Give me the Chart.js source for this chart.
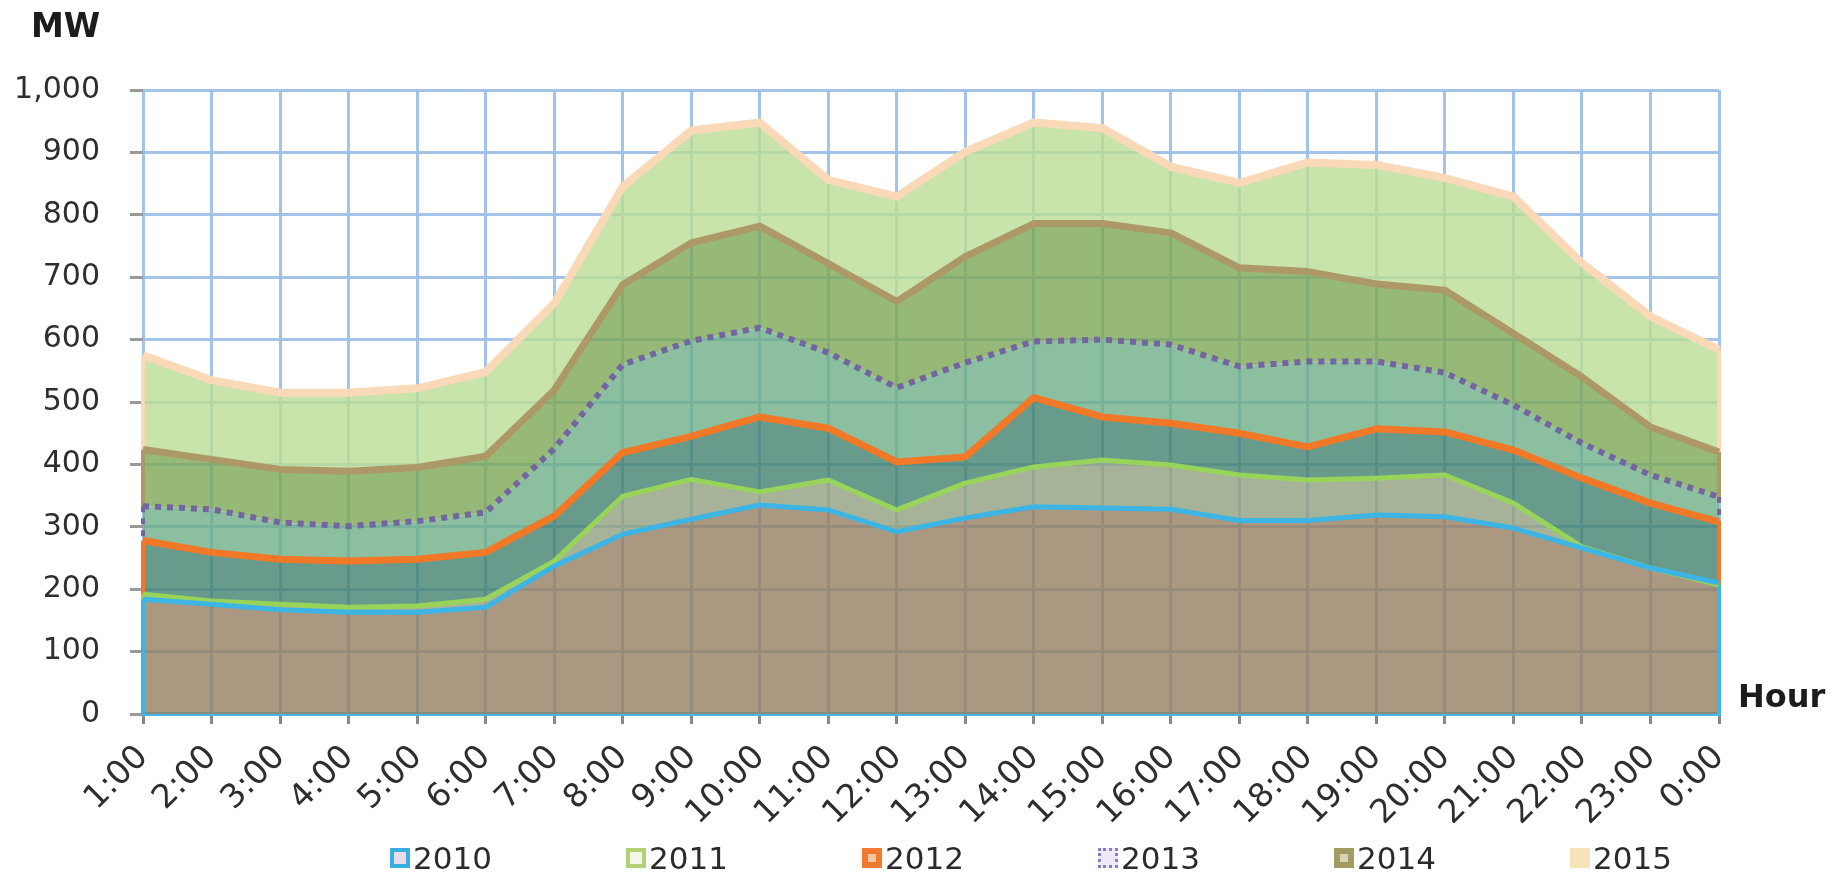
<!DOCTYPE html>
<html>
<head>
<meta charset="utf-8">
<script src="https://cdn.jsdelivr.net/npm/chart.js@4.4.1/dist/chart.umd.min.js"></script>
<style>
  html, body { margin: 0; padding: 0; background: #fff; }
  #wrap { position: relative; width: 1839px; height: 875px; font-family: "DejaVu Sans", "Liberation Sans", sans-serif; }
  #chart { position: absolute; left: 0; top: 0; }
  .axt { position: absolute; font-weight: bold; color: #1c1c1c; line-height: 1; }
  #legend { position: absolute; left: 390px; top: 841px; display: flex; }
  .li { width: 236px; display: flex; align-items: center; font-size: 31px; line-height: 34px; color: #2b2b2b; }
  .box { width: 20px; height: 20px; box-sizing: border-box; margin-right: 3px; }
</style>
</head>
<body>
<div id="wrap">
  <canvas id="chart" width="1839" height="875"></canvas>
  <div class="axt" style="left:31px;top:9px;font-size:33px">MW</div>
  <div class="axt" style="left:1738px;top:680px;font-size:32px">Hour</div>
  <div id="legend"></div>
</div>
<script>
// hourly load by year, MW
const hours = ['1:00','2:00','3:00','4:00','5:00','6:00','7:00','8:00','9:00','10:00','11:00','12:00',
               '13:00','14:00','15:00','16:00','17:00','18:00','19:00','20:00','21:00','22:00','23:00','0:00'];
const years = ['2010', '2011', '2012', '2013', '2014', '2015'];

const load2010 = [184,176,167,163,163,171,237,288,312,335,327,292,314,332,330,328,310,310,319,316,298,266,234,210];
const load2011 = [192,181,176,171,173,184,245,349,376,356,375,327,370,396,407,399,383,375,378,383,338,268,234,207];
const load2012 = [278,259,248,245,248,259,317,419,445,476,458,404,412,507,476,466,450,428,457,452,423,378,338,308];
const load2013 = [333,328,307,301,309,323,425,560,598,619,579,523,563,597,600,592,557,565,565,547,495,434,383,348];
const load2014 = [424,408,392,389,395,413,519,688,755,782,722,661,733,786,786,771,715,709,689,679,610,540,460,420];
const load2015 = [575,535,515,515,522,548,658,845,935,948,856,829,901,948,939,877,851,884,880,859,829,723,637,584];

const yTicks = [0, 100, 200, 300, 400, 500, 600, 700, 800, 900, 1000];

const series = [load2010, load2011, load2012, load2013, load2014, load2015];
// band under each line (fill down to the previous year), line colour, width, dash
const bandColors = ['rgba(149,126,96,0.8)', 'rgba(145,160,126,0.8)', 'rgba(67,130,111,0.8)',
                    'rgba(111,174,136,0.8)', 'rgba(124,168,86,0.8)', 'rgba(186,221,149,0.8)'];
const lineColors = ['#3db5e4', '#98d45a', '#f07826', '#73659f', '#ad9868', '#f9d9b8'];
const lineWidths = [5, 5, 7, 6, 7, 8];
const lineDashes = [[], [], [], [6, 6], [], []];

const datasets = years.map((y, i) => ({
  label: y,
  data: series[i],
  fill: i === 0 ? 'origin' : '-1',
  backgroundColor: bandColors[i],
  borderColor: lineColors[i],
  borderWidth: lineWidths[i],
  borderDash: lineDashes[i],
  borderJoinStyle: 'round',
  pointRadius: 0,
  tension: 0
}));

// vertical edges of each band at first and last hour, taken from the data through the scales
const bandEdges = {
  id: 'bandEdges',
  beforeDatasetsDraw(chart) {
    const { ctx, scales: { x, y } } = chart;
    const last = hours.length - 1;
    ctx.save();
    series.forEach((s, i) => {
      [0, last].forEach(j => {
        const px = x.getPixelForValue(j);
        const lo = i === 0 ? 0 : series[i - 1][j];
        ctx.beginPath();
        ctx.strokeStyle = lineColors[i];
        ctx.lineWidth = 4;
        ctx.setLineDash(lineDashes[i]);
        ctx.moveTo(px, y.getPixelForValue(s[j]));
        ctx.lineTo(px, y.getPixelForValue(lo));
        ctx.stroke();
      });
    });
    ctx.restore();
  }
};

const gridBlue = 'rgba(158,193,230,0.95)';

new Chart(document.getElementById('chart'), {
  type: 'line',
  data: { labels: hours, datasets },
  options: {
    responsive: false,
    animation: false,
    layout: { padding: { left: 0, right: 120, top: 90, bottom: 0 } },
    plugins: {
      legend: { display: false },
      tooltip: { enabled: false },
      filler: { drawTime: 'beforeDatasetsDraw' }
    },
    scales: {
      x: {
        grid: { color: gridBlue, lineWidth: 3, tickLength: 10, tickColor: '#888' },
        border: { color: '#45b8e6', width: 4 },
        ticks: {
          autoSkip: false, minRotation: 45, maxRotation: 45, padding: 14,
          color: '#2e2e2e', font: { family: 'DejaVu Sans', size: 33 }
        },
        afterFit(s) { s.height = 161; }
      },
      y: {
        min: 0, max: 1000,
        afterBuildTicks(s) { s.ticks = yTicks.map(v => ({ value: v })); },
        grid: { color: gridBlue, lineWidth: 3, tickLength: 13, tickColor: '#999' },
        border: { display: false },
        ticks: { padding: 30, color: '#2e2e2e', font: { family: 'DejaVu Sans', size: 30 } },
        afterFit(s) { s.width = 143; }
      }
    }
  },
  plugins: [bandEdges]
});

// legend
const swatch = [
  'border:4px solid #3aafe0;background:#e9dbe8',
  'border:4px solid #b2d276;background:#f3f8e6',
  'border:6px solid #ef7a30;background:#f6c7a0',
  'border:3px dotted #8a7cc0;background:#efe9f8',
  'border:6px solid #a39b62;background:#d8d4b6',
  'background:#f7e3b9'
];
const legend = document.getElementById('legend');
years.forEach((y, i) => {
  const item = document.createElement('div');
  item.className = 'li';
  item.innerHTML = `<span class="box" style="${swatch[i]}"></span>${y}`;
  legend.appendChild(item);
});
</script>
</body>
</html>
